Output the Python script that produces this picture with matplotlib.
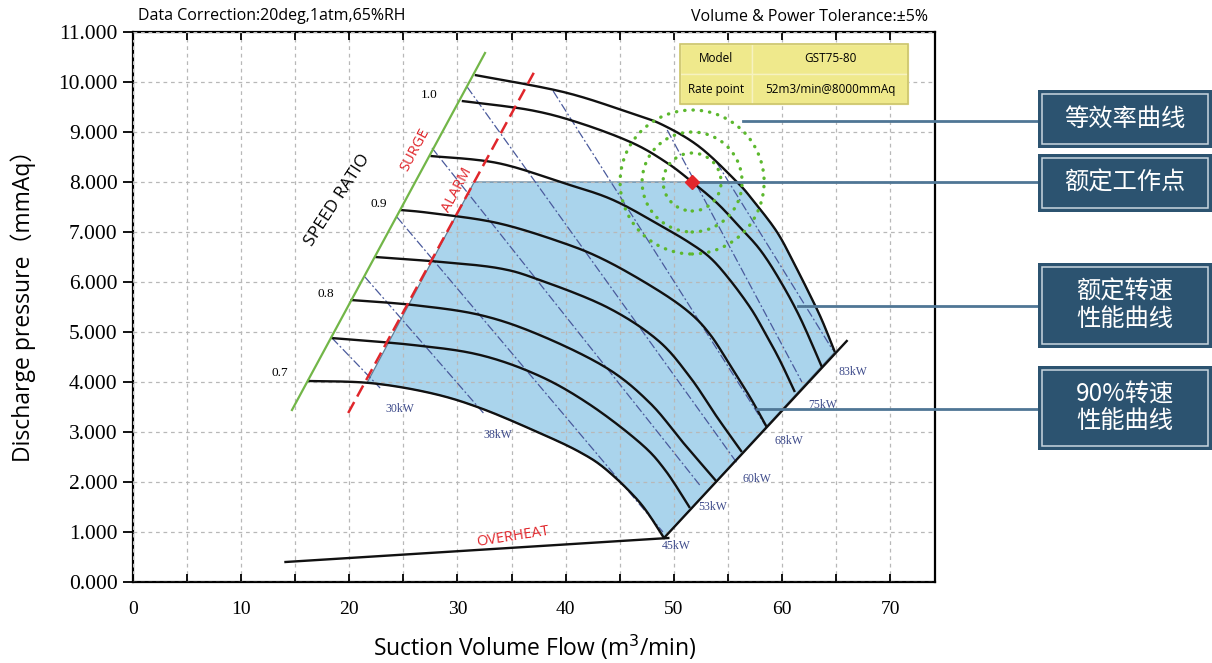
import numpy as np
import matplotlib
matplotlib.use("Agg")
import matplotlib.pyplot as plt
from matplotlib.patches import Rectangle, Ellipse, Polygon

W, H = 1212, 663

# ---- values: flow m3/min, pressure in 1000 mmAq ----
curve1_x = [31.6, 39.8, 46.0, 49.0, 52.4, 55.85, 57.3, 59.55, 61.2, 62.6, 63.7, 64.9]
curve1_y = [10.14, 9.80, 9.38, 9.14, 8.70, 8.00, 7.64, 7.00, 6.34, 5.74, 5.24, 4.60]
curve2_x = [30.4, 36.7, 41.3, 46.2, 49.4, 51.7, 54.0, 56.1, 58.0, 59.8, 61.7, 63.7]
curve2_y = [9.62, 9.44, 9.18, 8.78, 8.38, 8.00, 7.58, 7.10, 6.64, 6.04, 5.28, 4.30]
curve3_x = [27.5, 33.7, 39.8, 44.4, 49.0, 51.5, 53.4, 55.2, 57.1, 58.4, 59.8, 61.2]
curve3_y = [8.52, 8.38, 7.98, 7.64, 7.10, 6.78, 6.48, 6.04, 5.48, 5.00, 4.44, 3.80]
curve4_x = [24.7, 27.5, 33.7, 39.8, 43.8, 48.5, 51.5, 53.4, 55.2, 57.1, 58.6]
curve4_y = [7.44, 7.38, 7.18, 6.78, 6.42, 5.84, 5.38, 4.94, 4.34, 3.68, 3.10]
curve5_x = [22.4, 27.5, 33.7, 37.6, 43.8, 48.5, 51.5, 54.0, 56.3]
curve5_y = [6.50, 6.42, 6.28, 6.04, 5.50, 4.84, 4.10, 3.30, 2.60]
curve6_x = [20.1, 25.9, 32.1, 37.6, 43.8, 47.8, 50.9, 54.0]
curve6_y = [5.64, 5.54, 5.34, 4.94, 4.28, 3.58, 2.78, 2.00]
curve7_x = [18.3, 25.9, 32.1, 37.6, 42.3, 46.9, 49.2, 51.5]
curve7_y = [4.88, 4.74, 4.54, 4.12, 3.54, 2.78, 2.24, 1.48]
curve8_x = [16.1, 21.9, 27.5, 32.1, 37.6, 41.3, 43.8, 46.9, 49.1]
curve8_y = [4.02, 3.98, 3.78, 3.48, 2.98, 2.60, 2.24, 1.58, 0.88]

speed_labels = ["1.0", "0.9", "0.8", "0.7"]
speed_label_x = [27.4, 22.7, 17.8, 13.6]
speed_label_y = [9.74, 7.56, 5.76, 4.18]

surge_x = [14.7, 32.55]
surge_y = [3.44, 10.58]
alarm_x = [19.9, 37.2]
alarm_y = [3.38, 10.24]
end_x = [49.1, 66.0]
end_y = [0.88, 4.82]
overheat_x = [14.1, 49.5]
overheat_y = [0.40, 0.88]

power_labels = ["30kW", "38kW", "45kW", "53kW", "60kW", "68kW", "75kW", "83kW"]
power_x0 = [18.4, 21.45, 24.4, 27.65, 30.9, 38.85, 49.4, 54.0]
power_y0 = [4.88, 6.10, 7.30, 8.68, 9.90, 9.82, 9.04, 8.38]
power_x1 = [22.85, 32.4, 49.0, 52.4, 55.85, 58.45, 61.85, 64.7]
power_y1 = [3.88, 3.38, 1.00, 1.94, 2.38, 3.14, 4.00, 4.64]
power_label_x = [24.7, 33.7, 50.2, 53.6, 57.7, 60.7, 63.8, 66.6]
power_label_y = [3.46, 2.94, 0.72, 1.50, 2.06, 2.82, 3.54, 4.20]

rate_flow, rate_pressure = 51.7, 8.0
table_rows = [["Model", "GST75-80"], ["Rate point", "52m3/min@8000mmAq"]]

notes = ["等效率曲线", "额定工作点", "额定转速\n性能曲线", "90%转速\n性能曲线"]

curves_x = [curve1_x, curve2_x, curve3_x, curve4_x, curve5_x, curve6_x, curve7_x, curve8_x]
curves_y = [curve1_y, curve2_y, curve3_y, curve4_y, curve5_y, curve6_y, curve7_y, curve8_y]


def smooth(x, y, n=24):
    # Catmull-Rom bezier drawn through the read points
    p = np.column_stack([x, y]).astype(float)
    out = [p[:1]]
    t = np.linspace(0, 1, n)[1:, None]
    for i in range(len(p) - 1):
        p0 = p[i - 1] if i > 0 else p[i]
        p3 = p[i + 2] if i + 2 < len(p) else p[i + 1]
        b1 = p[i] + (p[i + 1] - p0) / 6
        b2 = p[i + 1] - (p3 - p[i]) / 6
        seg = ((1 - t) ** 3) * p[i] + 3 * ((1 - t) ** 2) * t * b1 + 3 * (1 - t) * t ** 2 * b2 + t ** 3 * p[i + 1]
        out.append(seg)
    s = np.vstack(out)
    return s[:, 0], s[:, 1]


SANS = ['Open Sans', 'Noto Sans CJK SC', 'DejaVu Sans']
SERIF = ['Liberation Serif', 'DejaVu Serif']
plt.rcParams['font.family'] = SANS

fig = plt.figure(figsize=(W / 100, H / 100), dpi=100)
ax = fig.add_axes([133 / W, 1 - 582 / H, (935 - 133) / W, (582 - 32) / H])
ax.set_xlim(0, 74.16)
ax.set_ylim(0, 11)

smooth_curves = [smooth(cx, cy) for cx, cy in zip(curves_x, curves_y)]

# operating area: alarm line -> y=8 -> outer curve -> end line -> lowest curve
s1x, s1y = smooth_curves[0]
s8x, s8y = smooth_curves[-1]
diff = s8y - np.interp(s8x, alarm_x, alarm_y)
i = np.argmax(diff < 0)
ix, iy = s8x[i], s8y[i]
ax8 = np.interp(rate_pressure, alarm_y, alarm_x)
poly = [(ax8, rate_pressure)]
poly += [(x, y) for x, y in zip(s1x, s1y) if y <= rate_pressure]
poly += [(end_x[0], end_y[0])]
poly += [(x, y) for x, y in zip(s8x[::-1], s8y[::-1]) if x > ix]
poly += [(ix, iy)]
ax.add_patch(Polygon(poly, closed=True, facecolor='#aad4ec', edgecolor='#5f7f98',
                     lw=0.9, zorder=1))

for sx, sy in smooth_curves:
    ax.plot(sx, sy, color='#111111', lw=1.7, zorder=4, solid_capstyle='butt')
ax.plot(end_x, end_y, color='#111111', lw=1.7, zorder=4)
ax.plot(overheat_x, overheat_y, color='#111111', lw=1.7, zorder=4)

for x0, y0, x1, y1 in zip(power_x0, power_y0, power_x1, power_y1):
    ax.plot([x0, x1], [y0, y1], color='#4a5a9c', lw=0.9, ls=(0, (7, 2, 1.5, 2)), zorder=3)
for lab, x, y in zip(power_labels, power_label_x, power_label_y):
    ax.text(x, y, lab, color='#3d4a8a', fontsize=8.5, family=SERIF, ha='center', va='center', zorder=5)

ax.plot(surge_x, surge_y, color='#72b648', lw=1.6, zorder=4)
ax.plot(alarm_x, alarm_y, color='#e0262b', lw=1.8, ls=(0, (5, 2.5)), zorder=4)

for lab, x, y in zip(speed_labels, speed_label_x, speed_label_y):
    ax.text(x, y, lab, fontsize=9.5, family=SERIF, ha='center', va='center', zorder=5)

ax.text(18.9, 7.64, "SPEED RATIO", rotation=57, fontsize=12.5, ha='center', va='center', zorder=5)
ax.text(26.1, 8.64, "SURGE", rotation=62, fontsize=10.5, color='#e0262b', ha='center', va='center', zorder=5)
ax.text(30.0, 7.84, "ALARM", rotation=62, fontsize=10.5, color='#e0262b', ha='center', va='center', zorder=5)
ax.text(35.1, 0.90, "OVERHEAT", rotation=9, fontsize=10.5, color='#e0262b', ha='center', va='center', zorder=5)

# equal efficiency rings round the rated point (radii in pixels)
for r in [72, 50, 29]:
    ax.add_patch(Ellipse((rate_flow, rate_pressure), 2 * r / 10.814, 2 * r / 50, fill=False,
                         edgecolor='#5cb82e', lw=2.4, ls=(0, (0.1, 2.4)), capstyle='round', zorder=5))
ax.plot(rate_flow, rate_pressure, marker='D', color='#e3262b', ms=7, zorder=7)

# spec table
tb = [(680 - 133) / 802, (582 - 104) / 550, 228 / 802, 60 / 550]
tbl = ax.table(cellText=table_rows, cellLoc='center', colWidths=[0.316, 0.684], bbox=tb)
tbl.auto_set_font_size(False)
for cell in tbl.get_celld().values():
    cell.set_facecolor('#efe98c')
    cell.set_edgecolor('#f6f2c0')
    cell.set_linewidth(1.0)
    cell.get_text().set_fontsize(8.5)
tbl.set_zorder(6)
ax.add_patch(Rectangle((tb[0], tb[1]), tb[2], tb[3], transform=ax.transAxes, fill=False,
                       edgecolor='#cbc46a', lw=1.2, zorder=7))

# axes cosmetics
ax.set_xticks(np.arange(0, 71, 10))
ax.set_xticks(np.arange(5, 71, 10), minor=True)
ax.set_yticks(np.arange(0, 12, 1))
ax.set_yticklabels([f"{v:.3f}" for v in np.arange(0, 12, 1)])
ax.grid(True, which='both', color='#b8b8b8', ls=(0, (3, 3)), lw=0.9)
ax.set_axisbelow(False)
ax.tick_params(axis='x', which='both', direction='in', top=True, length=6, width=1.3, pad=14, labelsize=14)
ax.tick_params(axis='y', which='both', direction='out', right=False, length=7, width=1.3, pad=4, labelsize=15.5)
plt.setp(ax.get_xticklabels() + ax.get_yticklabels(), family=SERIF)
for s in ax.spines.values():
    s.set_linewidth(1.6)

ax.set_xlabel("Suction Volume Flow (m$^3$/min)", fontsize=16.5)
ax.set_ylabel("Discharge pressure（mmAq）", fontsize=16.5)
ax.xaxis.set_label_coords((535 - 133) / 802, -(633 - 582) / 550)
ax.yaxis.set_label_coords(-(133 - 36) / 802, (582 - 300) / 550)

fig.text(138 / W, 1 - 16 / H, "Data Correction:20deg,1atm,65%RH", ha='left', va='center', fontsize=11.5)
fig.text(928 / W, 1 - 17 / H, "Volume & Power Tolerance:±5%", ha='right', va='center', fontsize=11.5)

# right-hand notes with connector lines
note_boxes = [(90, 148), (154, 212), (263, 348), (366, 450)]
note_from_x = [56.4, rate_flow, 61.5, 57.7]
note_from_y = [9.22, rate_pressure, 5.52, 3.46]
x_box = (1038 - 133) / 10.814
for (t, b), txt, fx, fy in zip(note_boxes, notes, note_from_x, note_from_y):
    ax.plot([fx, x_box], [fy, fy], color='#4f7695', lw=2, clip_on=False, zorder=6)
    fig.add_artist(Rectangle((1038 / W, 1 - b / H), (1212 - 1038) / W, (b - t) / H,
                             transform=fig.transFigure, facecolor='#2c5370', edgecolor='none'))
    fig.add_artist(Rectangle((1042 / W, 1 - (b - 4) / H), (1208 - 1042) / W, (b - t - 8) / H,
                             transform=fig.transFigure, fill=False, edgecolor='#c9d6df', lw=1.1))
    fig.text(1125 / W, 1 - (t + b) / 2 / H, txt, color='white', ha='center', va='center',
             fontsize=17.5, family=['Noto Sans CJK SC', 'DejaVu Sans'], linespacing=1.05)

fig.savefig("out.png", dpi=100)
